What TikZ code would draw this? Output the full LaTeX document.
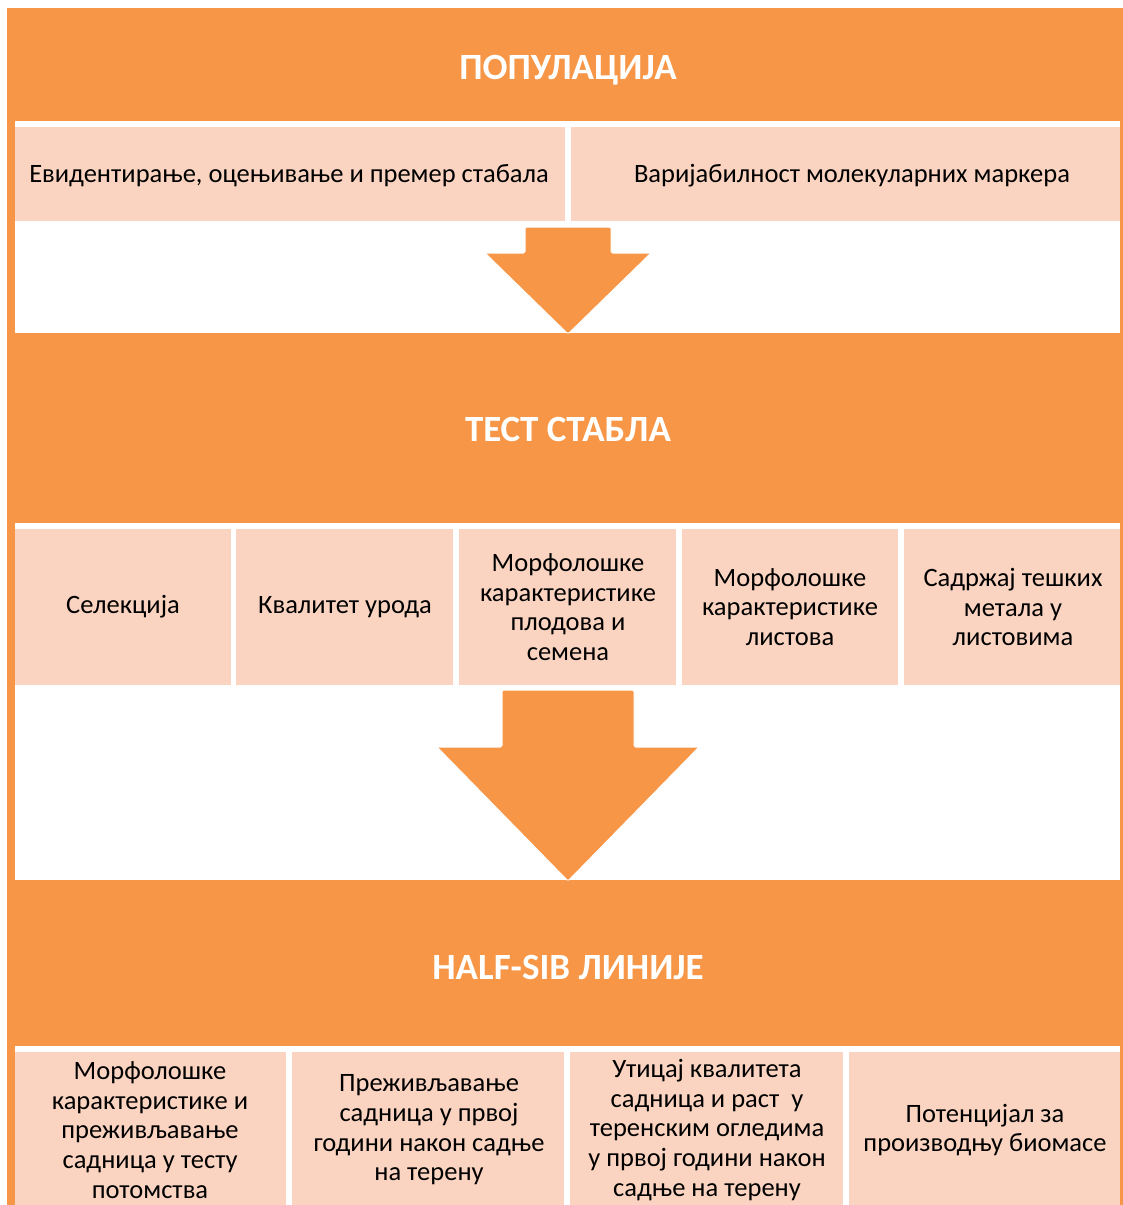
\documentclass[tikz,border=0pt]{standalone}
\usepackage{fontspec}
\setmainfont{Carlito}
\definecolor{orng}{HTML}{F79646}
\definecolor{pale}{HTML}{FAD4C0}
\tikzset{
  band/.style={fill=orng, draw=none},
  whitearea/.style={fill=white, draw=none},
  cell/.style={fill=pale, draw=none},
  bigarrow/.style={fill=orng, draw=white, line width=1pt, rounded corners=1.5pt},
  title/.style={text=white, font=\fontsize{37}{42}\selectfont\bfseries, inner sep=0pt},
  lbl/.style={text=black, font=\fontsize{26.5}{29.6}\selectfont, align=center, inner sep=0pt},
}
\begin{document}
\begin{tikzpicture}[x=1pt,y=-1pt]
\useasboundingbox (0,0) rectangle (1123,1205);
% outer orange frame
\fill[band] (7,8) rectangle (1123,1205);
% white areas
\fill[whitearea] (15,121) rectangle (1120,333);
\fill[whitearea] (15,523) rectangle (1120,880);
\fill[whitearea] (15,1046) rectangle (1120,1205);
% row 1 cells
\fill[cell] (15,127) rectangle (565,221);
\fill[cell] (571,127) rectangle (1120,221);
% row 2 cells
\fill[cell] (15,529) rectangle (231,685);
\fill[cell] (236,529) rectangle (453,685);
\fill[cell] (459,529) rectangle (676,685);
\fill[cell] (682,529) rectangle (898,685);
\fill[cell] (904,529) rectangle (1120,685);
% row 3 cells
\fill[cell] (15,1052) rectangle (286,1205);
\fill[cell] (292,1052) rectangle (564,1205);
\fill[cell] (570,1052) rectangle (843,1205);
\fill[cell] (849,1052) rectangle (1120,1205);
% arrows
\draw[bigarrow] (525,227) -- (611,227) -- (611,253) -- (651,253) -- (568,334) -- (485,253) -- (525,253) -- cycle;
\draw[bigarrow] (502,690) -- (634,690) -- (634,747) -- (699,747) -- (568,881) -- (437,747) -- (502,747) -- cycle;
% titles
\node[title] (t1) at (568,70) {ПОПУЛАЦИЈА};
\node[title] (t2) at (568,429) {ТЕСТ СТАБЛА};
\node[title] (t3) at (568,967) {HALF-SIB ЛИНИЈЕ};
% row 1 labels
\node[lbl] (a1) at (289,176) {Евидентирање, оцењивање и премер стабала};
\node[lbl] (a2) at (852,176) {Варијабилност молекуларних маркера};
% row 2 labels
\node[lbl] (b1) at (123,607) {Селекција};
\node[lbl] (b2) at (345,607) {Квалитет урода};
\node[lbl] (b3) at (568,607) {Морфолошке\\карактеристике\\плодова и\\семена};
\node[lbl] (b4) at (790,607) {Морфолошке\\карактеристике\\листова};
\node[lbl] (b5) at (1013,607) {Садржај тешких\\метала у\\листовима};
% row 3 labels
\node[lbl] (c1) at (150,1130) {Морфолошке\\карактеристике и\\преживљавање\\садница у тесту\\потомства};
\node[lbl] (c2) at (429,1130) {Преживљавање\\садница у првој\\години након садње\\на терену};
\node[lbl] (c3) at (707,1130) {Утицај квалитета\\садница и раст\ \ у\\теренским огледима\\у првој години након\\садње на терену};
\node[lbl] (c4) at (985,1130) {Потенцијал за\\производњу биомасе};
\end{tikzpicture}
\end{document}
